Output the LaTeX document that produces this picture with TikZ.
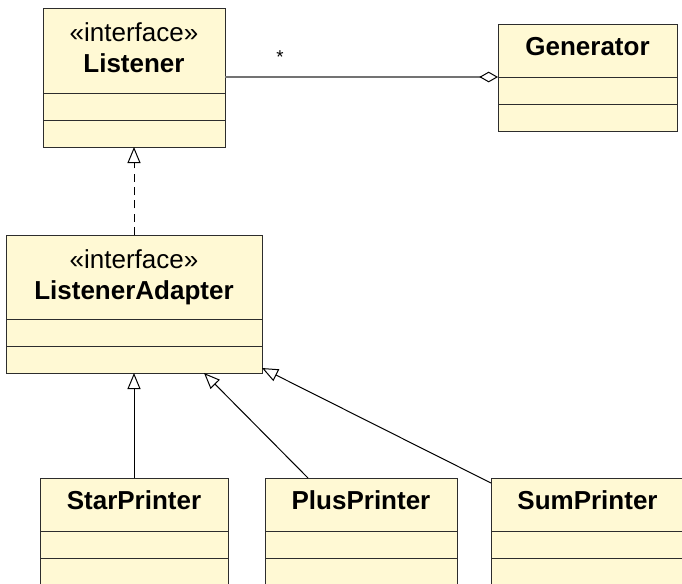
\documentclass[tikz,border=0pt]{standalone}
\usepackage{fontspec}
\setmainfont{Liberation Sans}
\usetikzlibrary{positioning}
\usetikzlibrary{calc}
\usetikzlibrary{arrows.meta}
\definecolor{umlfill}{RGB}{255, 249, 212}
\definecolor{umlline}{RGB}{45, 45, 45}
\definecolor{assocgray}{RGB}{115, 115, 115}

\begin{document}
\begin{tikzpicture}[x=0.75pt, y=-0.75pt, line width=0.75pt,
  head/.style={draw=umlline, fill=umlfill, outer sep=0pt, inner sep=0pt,
    align=center, font=\fontsize{19.5}{23.25}\selectfont},
  onehead/.style={head, minimum height=39.75pt, text height=14pt, text depth=6pt},
  twohead/.style={head, minimum height=63.75pt, text depth=4pt},
  comp/.style={draw=umlline, fill=umlfill, outer sep=0pt, inner sep=0pt, minimum height=20.25pt},
  realize/.style={-{Triangle[open, length=12pt, width=9.75pt]}},
  aggr/.style={assocgray, line width=1pt, -{Diamond[open, color=black, line width=0.75pt, length=14pt, width=8pt]}}]
  \useasboundingbox (0,0) rectangle (682,583);
  % classes
  \node[twohead, minimum width=136.5pt] (lst) at (134,50.5) {«interface»\\\textbf{Listener}};
  \node[comp, minimum width=136.5pt, below=0pt of lst] (lstA) {};
  \node[comp, minimum width=136.5pt, below=0pt of lstA] (lstB) {};
  \node[onehead, minimum width=134.25pt] (gen) at (587.5,50.5) {\textbf{Generator}};
  \node[comp, minimum width=134.25pt, below=0pt of gen] (genA) {};
  \node[comp, minimum width=134.25pt, below=0pt of genA] (genB) {};
  \node[twohead, minimum width=192pt, minimum height=63pt] (adapt) at (134,277) {«interface»\\\textbf{ListenerAdapter}};
  \node[comp, minimum width=192pt, below=0pt of adapt] (adaptA) {};
  \node[comp, minimum width=192pt, below=0pt of adaptA] (adaptB) {};
  \node[onehead, minimum width=141pt] (star) at (134,504.5) {\textbf{StarPrinter}};
  \node[comp, minimum width=141pt, below=0pt of star] (starA) {};
  \node[comp, minimum width=141pt, below=0pt of starA] (starB) {};
  \node[onehead, minimum width=144pt] (plus) at (361,504.5) {\textbf{PlusPrinter}};
  \node[comp, minimum width=144pt, below=0pt of plus] (plusA) {};
  \node[comp, minimum width=144pt, below=0pt of plusA] (plusB) {};
  \node[onehead, minimum width=144.75pt] (sum) at (587.5,504.5) {\textbf{SumPrinter}};
  \node[comp, minimum width=144.75pt, below=0pt of sum] (sumA) {};
  \node[comp, minimum width=144.75pt, below=0pt of sumA] (sumB) {};
  % association
  \draw[aggr] (lst.east |- gen.south west) -- (gen.south west);
  \node[font=\fontsize{14}{16}\selectfont] (mult) at (280,57) {*};
  % generalization
  \draw[realize, dashed, dash pattern=on 6pt off 4pt] (adapt) -- (lstB);
  \coordinate (plusfoot) at ($(plus.north)+(-53,0)$);
  \coordinate (plustip) at ($(adaptB.south)+(70,0)$);
  \coordinate (sumfoot) at ($(sum.north west)+(0,5)$);
  \coordinate (sumtip) at ($(adaptB.south east)+(0,-5)$);
  \foreach \from/\to in {star/adaptB, plusfoot/plustip, sumfoot/sumtip}
   \draw[realize] (\from) -- (\to);
\end{tikzpicture}
\end{document}
